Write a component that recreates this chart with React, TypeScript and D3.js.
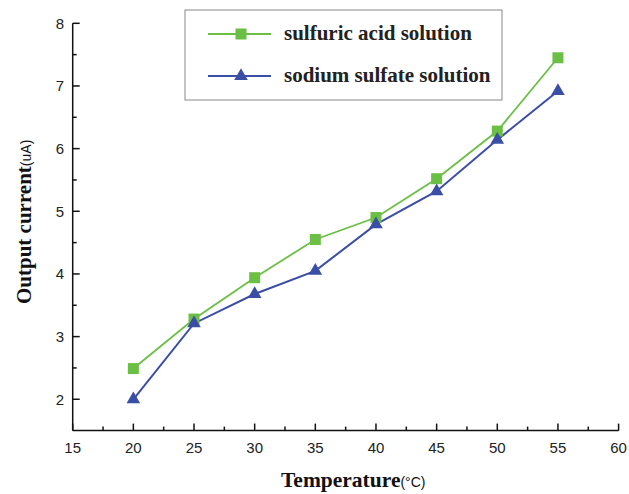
import React from "react";
import * as d3 from "d3";

const temps = [20, 25, 30, 35, 40, 45, 50, 55];
const sulfuric = [2.49, 3.28, 3.94, 4.55, 4.9, 5.52, 6.28, 7.45];
const sodium = [2.0, 3.21, 3.68, 4.05, 4.79, 5.32, 6.14, 6.92];
const seriesNames = ["sulfuric acid solution", "sodium sulfate solution"];
const xTicks = [15, 20, 25, 30, 35, 40, 45, 50, 55, 60];
const yTicks = [2, 3, 4, 5, 6, 7, 8];

const GREEN = "#6cbf45";
const BLUE = "#3b4ea6";

export default function App() {
  const W = 629, H = 494;
  const x = d3.scaleLinear().domain([15, 60]).range([72.7, 618.6]);
  const y = d3.scaleLinear().domain([1.5, 8]).range([430.6, 23.3]);
  const line = d3.line<number>().x((_, i) => x(temps[i])).y((d) => y(d));
  const minorX = d3.range(17.5, 60, 5);
  const minorY = d3.range(2.5, 8, 1);
  const tri = d3.symbol().type(d3.symbolTriangle).size(80)();
  const sans = "'Liberation Sans', Arial, sans-serif";
  const serif = "'Liberation Serif', 'Times New Roman', serif";
  return (
    <svg width={W} height={H} style={{ position: "absolute", left: 0, top: 0, background: "#fff" }}>
      <rect width={W} height={H} fill="#fff" />
      {/* axes */}
      <g stroke="#111" strokeWidth={1.5} fill="none">
        <line x1={x(15)} x2={x(15)} y1={y(8)} y2={y(1.5)} />
        <line x1={x(15)} x2={x(60)} y1={y(1.5)} y2={y(1.5)} />
        {xTicks.map((t) => (
          <line key={"xt" + t} x1={x(t)} x2={x(t)} y1={y(1.5)} y2={y(1.5) - 7} />
        ))}
        {minorX.map((t) => (
          <line key={"xm" + t} x1={x(t)} x2={x(t)} y1={y(1.5)} y2={y(1.5) - 4} />
        ))}
        {yTicks.map((t) => (
          <line key={"yt" + t} x1={x(15)} x2={x(15) + 7} y1={y(t)} y2={y(t)} />
        ))}
        {minorY.map((t) => (
          <line key={"ym" + t} x1={x(15)} x2={x(15) + 4} y1={y(t)} y2={y(t)} />
        ))}
      </g>
      <g fontFamily={sans} fontSize={15} fill="#222">
        {xTicks.map((t) => (
          <text key={"xl" + t} x={x(t)} y={453} textAnchor="middle">{t}</text>
        ))}
        {yTicks.map((t) => (
          <text key={"yl" + t} x={64} y={y(t) + 5.5} textAnchor="end">{t}</text>
        ))}
      </g>
      {/* axis titles */}
      <text x={281} y={487} fontFamily={serif} fontWeight="bold" fontSize={21.5} fill="#111">
        Temperature<tspan fontFamily={sans} fontWeight="normal" fontSize={14}>(°C)</tspan>
      </text>
      <text transform="translate(31,304) rotate(-90)" fontFamily={serif} fontWeight="bold" fontSize={21} fill="#111">
        Output current<tspan fontFamily={sans} fontWeight="normal" fontSize={14}>(uA)</tspan>
      </text>
      {/* series */}
      <path d={line(sulfuric) || ""} fill="none" stroke={GREEN} strokeWidth={1.8} />
      <path d={line(sodium) || ""} fill="none" stroke={BLUE} strokeWidth={2} />
      {sulfuric.map((v, i) => (
        <rect key={"s" + i} x={x(temps[i]) - 5.5} y={y(v) - 5.5} width={11} height={11} fill={GREEN} />
      ))}
      {sodium.map((v, i) => (
        <path key={"n" + i} d={tri || ""} transform={`translate(${x(temps[i])},${y(v)})`} fill={BLUE} />
      ))}
      {/* legend */}
      <rect x={185} y={10} width={317} height={90} fill="#fff" stroke="#888" strokeWidth={1} />
      <line x1={208} x2={271} y1={34} y2={34} stroke={GREEN} strokeWidth={1.8} />
      <rect x={241 - 5.5} y={34 - 5.5} width={11} height={11} fill={GREEN} />
      <text x={284} y={40} fontFamily={serif} fontSize={21} fontWeight="bold" fill="#222">{seriesNames[0]}</text>
      <line x1={208} x2={271} y1={76} y2={76} stroke={BLUE} strokeWidth={2} />
      <path d={tri || ""} transform="translate(241,76)" fill={BLUE} />
      <text x={284} y={82} fontFamily={serif} fontSize={21} fontWeight="bold" fill="#222">{seriesNames[1]}</text>
    </svg>
  );
}
